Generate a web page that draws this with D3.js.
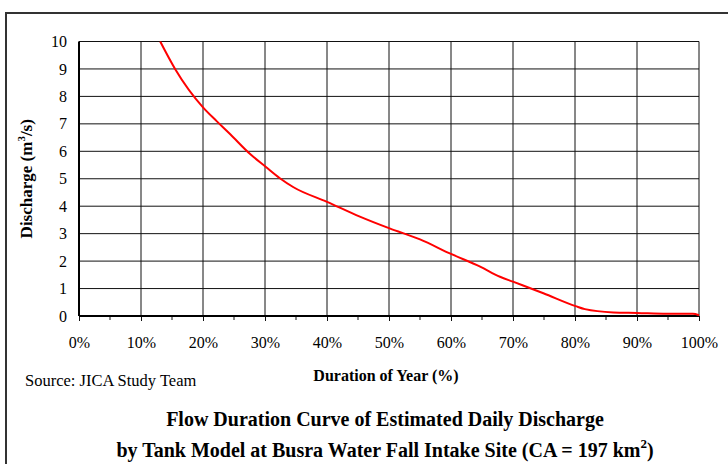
<!DOCTYPE html>
<html>
<head>
<meta charset="utf-8">
<script src="https://cdn.jsdelivr.net/npm/d3@7"></script>
<style>
  body { margin: 0; background: #fff; }
  svg { display: block; font-family: "Liberation Serif", "Times New Roman", serif; }
</style>
</head>
<body>
<div id="chart"></div>
<script>
// Flow duration curve
const durationPct = [13.1, 15.5, 20, 22.2, 24.4, 27.6, 30.1, 32.4, 34.6, 40, 45.3, 50.1, 55, 60, 64.7, 67.9, 70, 74.9, 80.1, 81.6, 86.2, 90, 94.8, 99, 100];
const discharge = [10, 9, 7.6, 7.1, 6.62, 5.9, 5.44, 5.02, 4.69, 4.16, 3.62, 3.19, 2.79, 2.26, 1.8, 1.43, 1.25, 0.83, 0.36, 0.25, 0.13, 0.11, 0.08, 0.08, 0.03];

const xTicks = [0, 10, 20, 30, 40, 50, 60, 70, 80, 90, 100];
const xMinorTicks = [5, 15, 25, 35, 45, 55, 65, 75, 85, 95];
const yTicks = [0, 1, 2, 3, 4, 5, 6, 7, 8, 9, 10];

const width = 728, height = 464;
const margin = { left: 79, top: 41.5, right: 29, bottom: 148 };
const plotW = width - margin.left - margin.right;
const plotH = height - margin.top - margin.bottom;

const svg = d3.select("#chart").append("svg")
    .attr("width", width)
    .attr("height", height);

// outer frame (only top and left edges are visible in the crop)
svg.append("path")
    .attr("d", `M6,${height} V13 H${width}`)
    .attr("fill", "none")
    .attr("stroke", "#333")
    .attr("stroke-width", 2);

let x = d3.scaleLinear().domain([0, 100]).range([margin.left, margin.left + plotW]);
let y = d3.scaleLinear().domain([0, 10]).range([margin.top + plotH, margin.top]);

// grid
svg.append("g")
    .selectAll("line")
    .data(yTicks.slice(1))
    .enter().append("line")
    .attr("x1", x(0)).attr("x2", x(100))
    .attr("y1", d => y(d)).attr("y2", d => y(d))
    .attr("stroke", "#111")
    .attr("stroke-width", 1);

svg.append("g")
    .selectAll("line")
    .data(xTicks.slice(1))
    .enter().append("line")
    .attr("x1", d => x(d)).attr("x2", d => x(d))
    .attr("y1", y(0)).attr("y2", y(10))
    .attr("stroke", "#111")
    .attr("stroke-width", 1);

// x axis with major and minor ticks below
let xAxis = svg.append("g")
    .attr("transform", `translate(0,${y(0)})`)
    .call(d3.axisBottom(x).tickValues(xTicks).tickSize(5).tickFormat(d => d + "%").tickPadding(16));
xAxis.select(".domain").remove();
xAxis.selectAll(".tick line").attr("stroke", "#111");
xAxis.selectAll("text")
    .attr("font-family", "Liberation Serif")
    .attr("font-size", 16)
    .attr("fill", "#000");

svg.append("g")
    .selectAll("line")
    .data(xMinorTicks)
    .enter().append("line")
    .attr("x1", d => x(d)).attr("x2", d => x(d))
    .attr("y1", y(0)).attr("y2", y(0) + 4)
    .attr("stroke", "#111");

// y axis labels
let yAxis = svg.append("g")
    .attr("transform", `translate(${x(0)},0)`)
    .call(d3.axisLeft(y).tickValues(yTicks).tickSize(0).tickPadding(12));
yAxis.select(".domain").remove();
yAxis.selectAll("text")
    .attr("font-family", "Liberation Serif")
    .attr("font-size", 16)
    .attr("fill", "#000");

// axis lines
svg.append("line")
    .attr("x1", x(0)).attr("x2", x(100))
    .attr("y1", y(0)).attr("y2", y(0))
    .attr("stroke", "#000").attr("stroke-width", 2);
svg.append("line")
    .attr("x1", x(0)).attr("x2", x(0))
    .attr("y1", y(0)).attr("y2", y(10))
    .attr("stroke", "#000").attr("stroke-width", 2);

// curve
let pts = durationPct.map((d, i) => [d, discharge[i]]);
let line = d3.line().x(d => x(d[0])).y(d => y(d[1])).curve(d3.curveMonotoneX);
svg.append("path")
    .datum(pts)
    .attr("d", line)
    .attr("fill", "none")
    .attr("stroke", "#ff0000")
    .attr("stroke-width", 2);

// y title
let yTitle = svg.append("text")
    .attr("transform", `translate(32,${(y(0) + y(10)) / 2}) rotate(-90)`)
    .attr("text-anchor", "middle")
    .attr("font-weight", "bold")
    .attr("font-size", 17);
yTitle.append("tspan").text("Discharge (m");
yTitle.append("tspan").attr("dy", -7).attr("font-size", 11).text("3");
yTitle.append("tspan").attr("dy", 7).text("/s)");

// x title and source
svg.append("text")
    .attr("x", 386).attr("y", 381)
    .attr("text-anchor", "middle")
    .attr("font-weight", "bold")
    .attr("font-size", 16)
    .text("Duration of Year (%)");

svg.append("text")
    .attr("x", 25).attr("y", 386)
    .attr("font-size", 16.5)
    .text("Source: JICA Study Team");

// chart caption
svg.append("text")
    .attr("x", 385).attr("y", 426)
    .attr("text-anchor", "middle")
    .attr("font-weight", "bold")
    .attr("font-size", 20)
    .text("Flow Duration Curve of Estimated Daily Discharge");

let cap2 = svg.append("text")
    .attr("x", 385).attr("y", 457)
    .attr("text-anchor", "middle")
    .attr("font-weight", "bold")
    .attr("font-size", 20);
cap2.append("tspan").text("by Tank Model at Busra Water Fall Intake Site (CA = 197 km");
cap2.append("tspan").attr("dy", -9).attr("font-size", 13).text("2");
cap2.append("tspan").attr("dy", 9).text(")");
</script>
</body>
</html>
